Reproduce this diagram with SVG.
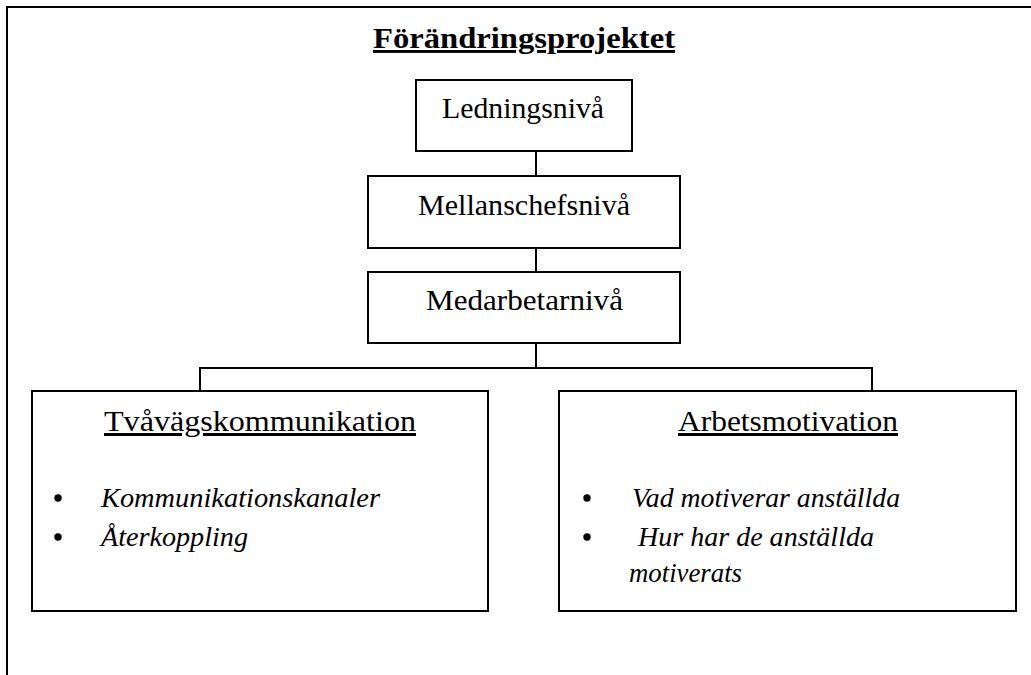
<svg xmlns="http://www.w3.org/2000/svg" width="1031" height="675" viewBox="0 0 1031 675">
<style>
.box{fill:#fff;stroke:#000;stroke-width:2}
.ln{fill:none;stroke:#000;stroke-width:2}
text{fill:#000}
.lvl{font-size:29px}
.hd{font-size:30px;text-decoration:underline}
.it{font-size:28px;font-style:italic}
.title{font-size:29px;font-weight:bold;text-decoration:underline}
</style>
<rect width="1031" height="675" fill="#fff"/>
<path class="ln" d="M7,675 V7 H1031" stroke-width="2.5"/>
<g font-family="Liberation Serif, DejaVu Serif, serif">
<text class="title" x="373" y="48" textLength="302" lengthAdjust="spacingAndGlyphs">Förändringsprojektet</text>
<g id="connectors">
<path class="ln" d="M536,152 V176"/>
<path class="ln" d="M536,248 V272"/>
<path class="ln" d="M536,343 V368 M200,391 V368 H872 V391"/>
</g>
<g id="ledning">
<rect class="box" x="416" y="80" width="216" height="71"/>
<text class="lvl" x="442" y="118" textLength="162" lengthAdjust="spacingAndGlyphs">Ledningsnivå</text>
</g>
<g id="mellanchef">
<rect class="box" x="368" y="176" width="312" height="72"/>
<text class="lvl" x="418" y="215" textLength="212" lengthAdjust="spacingAndGlyphs">Mellanschefsnivå</text>
</g>
<g id="medarbetar">
<rect class="box" x="368" y="272" width="312" height="71"/>
<text class="lvl" x="426" y="310" textLength="197" lengthAdjust="spacingAndGlyphs">Medarbetarnivå</text>
</g>
<g id="tvavag">
<rect class="box" x="32" y="391" width="456" height="220"/>
<text class="hd" x="104" y="431" textLength="312" lengthAdjust="spacingAndGlyphs">Tvåvägskommunikation</text>
<circle cx="58" cy="498" r="3.7"/>
<circle cx="58" cy="537" r="3.7"/>
<text class="it" x="101" y="507" textLength="279" lengthAdjust="spacingAndGlyphs">Kommunikationskanaler</text>
<text class="it" x="101" y="546" textLength="147" lengthAdjust="spacingAndGlyphs">Återkoppling</text>
</g>
<g id="arbetsmotivation">
<rect class="box" x="559" y="391" width="457" height="220"/>
<text class="hd" x="678" y="431" textLength="220" lengthAdjust="spacingAndGlyphs">Arbetsmotivation</text>
<circle cx="587" cy="498" r="3.7"/>
<circle cx="587" cy="537" r="3.7"/>
<text class="it" x="632" y="507" textLength="268" lengthAdjust="spacingAndGlyphs">Vad motiverar anställda</text>
<text class="it" x="638" y="546" textLength="236" lengthAdjust="spacingAndGlyphs">Hur har de anställda</text>
<text class="it" x="629" y="582" textLength="113" lengthAdjust="spacingAndGlyphs">motiverats</text>
</g>
</g>
</svg>
